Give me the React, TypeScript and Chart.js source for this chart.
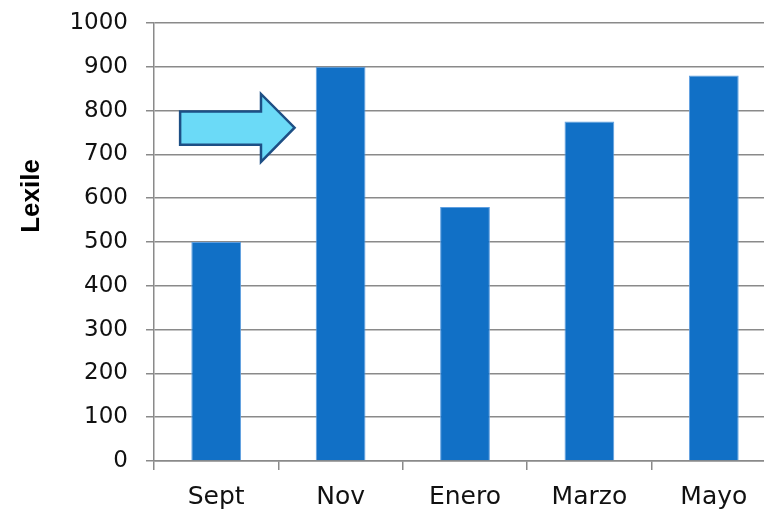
import { useEffect, useRef } from "react";
import { Chart, registerables } from "chart.js";

Chart.register(...registerables);

// Reading level per assessment month
const months = ["Sept", "Nov", "Enero", "Marzo", "Mayo"];
const lexile = [500, 900, 580, 775, 880];
const yMin = 0;
const yMax = 1000;
const yStep = 100;
const axisTitle = "Lexile";

// Callout arrow: x in category-index units, y in Lexile units
const arrowX = { tail: -0.29, neck: 0.36, tip: 0.63 };
const arrowY = { bodyLow: 722, bodyHigh: 798, headLow: 683, headHigh: 838, mid: 761 };

const gridGray = "#8a8a8a";
const barBlue = "#1170c6";
const tickFont = "'DejaVu Sans', sans-serif";

const calloutPlugin = {
  id: "callout",
  afterDatasetsDraw(chart: any) {
    const { ctx, scales } = chart;
    const x = scales.x;
    const y = scales.y;
    const x0 = x.getPixelForValue(0);
    const cat = x.getPixelForValue(1) - x0;
    const px = (f: number) => x0 + f * cat;
    const py = (v: number) => y.getPixelForValue(v);
    ctx.save();
    ctx.beginPath();
    ctx.moveTo(px(arrowX.tail), py(arrowY.bodyHigh));
    ctx.lineTo(px(arrowX.neck), py(arrowY.bodyHigh));
    ctx.lineTo(px(arrowX.neck), py(arrowY.headHigh));
    ctx.lineTo(px(arrowX.tip), py(arrowY.mid));
    ctx.lineTo(px(arrowX.neck), py(arrowY.headLow));
    ctx.lineTo(px(arrowX.neck), py(arrowY.bodyLow));
    ctx.lineTo(px(arrowX.tail), py(arrowY.bodyLow));
    ctx.closePath();
    ctx.fillStyle = "#6bdaf7";
    ctx.fill();
    ctx.lineWidth = 2.5;
    ctx.lineJoin = "miter";
    ctx.strokeStyle = "#1d4f85";
    ctx.stroke();
    ctx.restore();
  },
  afterDraw(chart: any) {
    const { ctx } = chart;
    ctx.save();
    ctx.translate(39, 196);
    ctx.rotate(-Math.PI / 2);
    ctx.font = "bold 26px 'Liberation Sans', Arial, sans-serif";
    ctx.fillStyle = "#000";
    ctx.textAlign = "center";
    ctx.textBaseline = "alphabetic";
    ctx.fillText(axisTitle, 0, 0);
    ctx.restore();
  },
};

export default function App() {
  const canvasRef = useRef<HTMLCanvasElement>(null);

  useEffect(() => {
    const canvas = canvasRef.current;
    if (!canvas) return;
    const chart = new Chart(canvas, {
      type: "bar",
      data: {
        labels: months,
        datasets: [
          {
            data: lexile,
            backgroundColor: barBlue,
            borderColor: "#5f9fe0",
            borderWidth: 1,
            barPercentage: 0.4,
            categoryPercentage: 1,
          },
        ],
      },
      options: {
        animation: false,
        responsive: false,
        devicePixelRatio: 1,
        layout: { padding: { top: 23, right: 24, left: 0, bottom: 0 } },
        plugins: {
          legend: { display: false },
          tooltip: { enabled: false },
          title: { display: false },
        },
        scales: {
          x: {
            afterFit: (s: any) => {
              s.height = 49;
              s.paddingLeft = 0;
              s.paddingRight = 0;
            },
            grid: {
              offset: true,
              drawOnChartArea: false,
              drawTicks: true,
              tickLength: 9,
              color: gridGray,
              lineWidth: 1.5,
            },
            border: { display: true, color: gridGray, width: 1.5 },
            ticks: {
              color: "#111",
              font: { family: tickFont, size: 25 },
              padding: 12,
              maxRotation: 0,
            },
          },
          y: {
            min: yMin,
            max: yMax,
            afterFit: (s: any) => {
              s.width = 154;
              s.paddingTop = 0;
              s.paddingBottom = 0;
            },
            grid: {
              color: gridGray,
              lineWidth: 1.5,
              tickLength: 8,
            },
            border: { display: true, color: gridGray, width: 1.5 },
            ticks: {
              stepSize: yStep,
              color: "#111",
              font: { family: tickFont, size: 23 },
              padding: 18,
              callback: (v: any) => String(v),
            },
          },
        },
      },
      plugins: [calloutPlugin],
    });
    return () => chart.destroy();
  }, []);

  return (
    <div
      style={{
        position: "absolute",
        left: 0,
        top: 0,
        width: 764,
        height: 510,
        overflow: "hidden",
        background: "#fff",
      }}
    >
      <canvas ref={canvasRef} width={800} height={510} style={{ display: "block" }} />
    </div>
  );
}
